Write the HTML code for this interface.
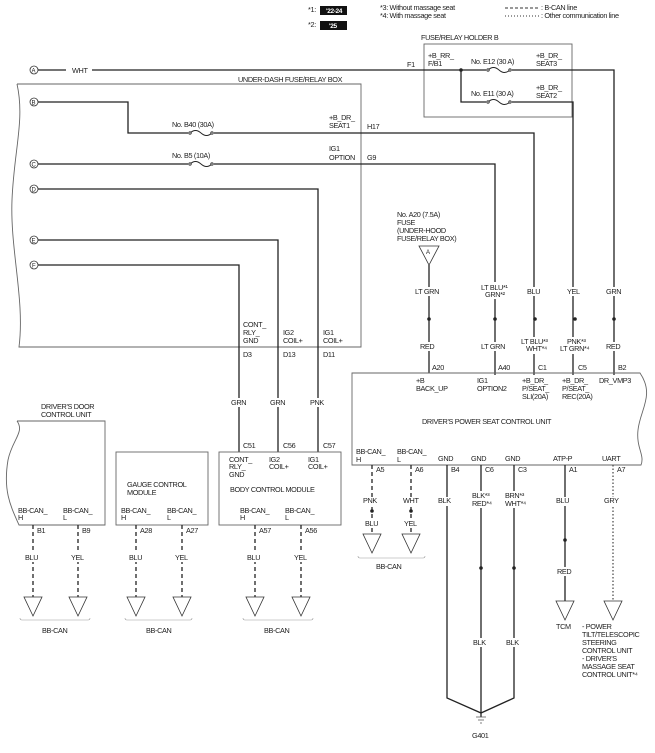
<!DOCTYPE html>
<html><head><meta charset="utf-8"><style>
html,body{margin:0;padding:0;background:#fff}
svg{display:block}
text{font-family:"Liberation Sans",sans-serif;font-size:7.3px;fill:#222;letter-spacing:-0.35px}
.w{stroke:#222;stroke-width:1.3;fill:none}
.b{stroke:#666;stroke-width:0.9;fill:none}
.d{stroke:#222;stroke-width:1.3;fill:none;stroke-dasharray:4,3}
.o{stroke:#444;stroke-width:1.2;fill:none;stroke-dasharray:1.5,2}
.t{stroke:#333;stroke-width:0.8;fill:#fff}
</style></head><body>
<svg width="655" height="753" viewBox="0 0 655 753" xmlns="http://www.w3.org/2000/svg">
<!-- legend -->
<text x="308" y="12">*1:</text><rect x="320" y="6" width="27" height="9" fill="#111"/><text x="326" y="13" style="fill:#fff;font-weight:bold;font-size:6.5px">'22-24</text>
<text x="308" y="27">*2:</text><rect x="320" y="21" width="27" height="9" fill="#111"/><text x="329" y="28" style="fill:#fff;font-weight:bold;font-size:6.5px">'25</text>
<text x="380" y="10">*3: Without massage seat</text>
<text x="380" y="18">*4: With massage seat</text>
<line x1="505" y1="8" x2="539" y2="8" stroke="#333" stroke-width="1" stroke-dasharray="3,2"/><text x="541" y="10">: B-CAN line</text>
<line x1="505" y1="16" x2="539" y2="16" stroke="#333" stroke-width="1" stroke-dasharray="1,2"/><text x="541" y="18">: Other communication line</text>

<!-- fuse/relay holder B -->
<text x="421" y="40">FUSE/RELAY HOLDER B</text>
<rect class="b" x="424" y="44" width="148" height="73"/>
<text x="407" y="67">F1</text>
<text x="428" y="58">+B_RR_</text><text x="428" y="66">F/B1</text>
<text x="471" y="64">No. E12 (30 A)</text>
<text x="536" y="58">+B_DR_</text><text x="536" y="66">SEAT3</text>
<text x="471" y="96">No. E11 (30 A)</text>
<text x="536" y="90">+B_DR_</text><text x="536" y="98">SEAT2</text>

<!-- A -->
<circle cx="34" cy="70" r="4" class="t"/><text x="31.5" y="72.5" style="font-size:6px">A</text>
<path class="w" d="M38,70 H66 M92,70 H614 V375"/>
<text x="72" y="73">WHT</text>
<path class="w" d="M461,70 V102 H573 V375"/>
<circle cx="461" cy="70" r="1.8" fill="#222"/>

<!-- under-dash box -->
<text x="238" y="82">UNDER-DASH FUSE/RELAY BOX</text>
<path class="b" d="M17,84 H361 V347 H19 C25,300 10,250 12,200 C14,150 25,120 17,84"/>

<!-- B -->
<circle cx="34" cy="102" r="4" class="t"/><text x="31.5" y="104.5" style="font-size:6px">B</text>
<path class="w" d="M38,102 H128 V133 H534 V375"/>
<text x="172" y="127">No. B40 (30A)</text>
<text x="329" y="120">+B_DR_</text><text x="329" y="128">SEAT1</text><text x="367" y="129">H17</text>
<!-- C -->
<circle cx="34" cy="164" r="4" class="t"/><text x="31.5" y="166.5" style="font-size:6px">C</text>
<path class="w" d="M38,164 H495 V375"/>
<text x="172" y="158">No. B5 (10A)</text>
<text x="329" y="151">IG1</text><text x="329" y="160">OPTION</text><text x="367" y="160">G9</text>
<!-- D E F -->
<circle cx="34" cy="189" r="4" class="t"/><text x="31.5" y="191.5" style="font-size:6px">D</text>
<path class="w" d="M38,189 H318 V452"/>
<circle cx="34" cy="240" r="4" class="t"/><text x="31.5" y="242.5" style="font-size:6px">E</text>
<path class="w" d="M38,240 H278 V452"/>
<circle cx="34" cy="265" r="4" class="t"/><text x="32" y="267.5" style="font-size:6px">F</text>
<path class="w" d="M38,265 H239 V452"/>

<!-- fuses -->
<g fill="#fff" stroke="#222" stroke-width="0.9">
<rect x="486" y="66" width="26" height="8" stroke="none"/><path d="M488,70 q5.5,-5 11,0 q5.5,5 11,0" fill="none"/><circle cx="488" cy="70" r="1.2"/><circle cx="510" cy="70" r="1.2"/>
<rect x="486" y="98" width="26" height="8" stroke="none"/><path d="M488,102 q5.5,-5 11,0 q5.5,5 11,0" fill="none"/><circle cx="488" cy="102" r="1.2"/><circle cx="510" cy="102" r="1.2"/>
<rect x="188" y="129" width="26" height="8" stroke="none"/><path d="M190,133 q5.5,-5 11,0 q5.5,5 11,0" fill="none"/><circle cx="190" cy="133" r="1.2"/><circle cx="212" cy="133" r="1.2"/>
<rect x="188" y="160" width="26" height="8" stroke="none"/><path d="M190,164 q5.5,-5 11,0 q5.5,5 11,0" fill="none"/><circle cx="190" cy="164" r="1.2"/><circle cx="212" cy="164" r="1.2"/>
</g>

<!-- box bottom labels -->
<text x="243" y="327">CONT_</text><text x="243" y="335">RLY_</text><text x="243" y="343">GND</text>
<text x="283" y="335">IG2</text><text x="283" y="343">COIL+</text>
<text x="323" y="335">IG1</text><text x="323" y="343">COIL+</text>
<text x="243" y="357">D3</text><text x="283" y="357">D13</text><text x="323" y="357">D11</text>
<rect x="230" y="398" width="18" height="9" fill="#fff"/><text x="231" y="405">GRN</text>
<rect x="269" y="398" width="18" height="9" fill="#fff"/><text x="270" y="405">GRN</text>
<rect x="309" y="398" width="18" height="9" fill="#fff"/><text x="310" y="405">PNK</text>
<text x="243" y="448">C51</text><text x="283" y="448">C56</text><text x="323" y="448">C57</text>

<!-- A20 fuse -->
<text x="397" y="217">No. A20 (7.5A)</text><text x="397" y="225">FUSE</text><text x="397" y="233">(UNDER-HOOD</text><text x="397" y="241">FUSE/RELAY BOX)</text>
<path class="t" d="M419,246 H439 L429,265 Z"/><text x="426" y="254" style="font-size:6px">A</text>
<path class="w" d="M429,265 V373"/>
<!-- wire labels above seat unit -->
<g>
<rect x="413" y="287" width="33" height="9" fill="#fff"/><text x="415" y="294">LT GRN</text>
<rect x="480" y="282" width="32" height="17" fill="#fff"/><text x="481" y="290">LT BLU*¹</text><text x="485" y="297">GRN*²</text>
<rect x="526" y="287" width="18" height="9" fill="#fff"/><text x="527" y="294">BLU</text>
<rect x="566" y="287" width="18" height="9" fill="#fff"/><text x="567" y="294">YEL</text>
<rect x="605" y="287" width="18" height="9" fill="#fff"/><text x="606" y="294">GRN</text>
<rect x="420" y="342" width="19" height="9" fill="#fff"/><text x="420" y="349">RED</text>
<rect x="480" y="342" width="32" height="9" fill="#fff"/><text x="481" y="349">LT GRN</text>
<rect x="520" y="337" width="32" height="17" fill="#fff"/><text x="521" y="344">LT BLU*³</text><text x="526" y="351">WHT*⁴</text>
<rect x="559" y="337" width="34" height="17" fill="#fff"/><text x="567" y="344">PNK*³</text><text x="560" y="351">LT GRN*⁴</text>
<rect x="605" y="342" width="19" height="9" fill="#fff"/><text x="606" y="349">RED</text>
</g>
<g fill="#222"><circle cx="429" cy="319" r="1.8"/><circle cx="495" cy="319" r="1.8"/><circle cx="535" cy="319" r="1.8"/><circle cx="575" cy="319" r="1.8"/><circle cx="614" cy="319" r="1.8"/></g>
<text x="432" y="370">A20</text><text x="498" y="370">A40</text><text x="538" y="370">C1</text><text x="578" y="370">C5</text><text x="618" y="370">B2</text>

<!-- seat unit -->
<path class="b" d="M352,465 V373 H640 C655,395 640,410 638,430 C636,448 645,455 641,465 Z"/>
<text x="416" y="383">+B</text><text x="416" y="391">BACK_UP</text>
<text x="477" y="383">IG1</text><text x="477" y="391">OPTION2</text>
<text x="522" y="383">+B_DR_</text><text x="522" y="391">P/SEAT_</text><text x="522" y="399">SLI(20A)</text>
<text x="562" y="383">+B_DR_</text><text x="562" y="391">P/SEAT_</text><text x="562" y="399">REC(20A)</text>
<text x="599" y="383">DR_VMP3</text>
<text x="422" y="424">DRIVER'S POWER SEAT CONTROL UNIT</text>
<text x="356" y="454">BB-CAN_</text><text x="356" y="462">H</text>
<text x="397" y="454">BB-CAN_</text><text x="397" y="462">L</text>
<text x="438" y="461">GND</text><text x="471" y="461">GND</text><text x="505" y="461">GND</text>
<text x="553" y="461">ATP-P</text><text x="602" y="461">UART</text>

<!-- seat bottom wires -->
<path class="d" d="M372,465 V534 M411,465 V534"/>
<path class="w" d="M447,465 V698 L481,713 L514,698 V465 M481,465 V717 M565,465 V601"/>
<path class="o" d="M613,465 V601"/>
<text x="376" y="472">A5</text><text x="415" y="472">A6</text><text x="451" y="472">B4</text><text x="485" y="472">C6</text><text x="518" y="472">C3</text><text x="569" y="472">A1</text><text x="617" y="472">A7</text>
<rect x="363" y="497" width="18" height="9" fill="#fff"/><text x="363" y="503">PNK</text>
<rect x="402" y="497" width="19" height="9" fill="#fff"/><text x="403" y="503">WHT</text>
<rect x="438" y="497" width="18" height="9" fill="#fff"/><text x="438" y="503">BLK</text>
<rect x="471" y="491" width="24" height="17" fill="#fff"/><text x="472" y="498">BLK*³</text><text x="472" y="506">RED*⁴</text>
<rect x="504" y="491" width="24" height="17" fill="#fff"/><text x="505" y="498">BRN*³</text><text x="505" y="506">WHT*⁴</text>
<rect x="556" y="497" width="18" height="9" fill="#fff"/><text x="556" y="503">BLU</text>
<rect x="604" y="497" width="19" height="9" fill="#fff"/><text x="604" y="503">GRY</text>
<rect x="364" y="519" width="17" height="9" fill="#fff"/><text x="365" y="526">BLU</text>
<rect x="403" y="519" width="17" height="9" fill="#fff"/><text x="404" y="526">YEL</text>
<rect x="556" y="567" width="19" height="9" fill="#fff"/><text x="557" y="574">RED</text>
<rect x="472" y="638" width="19" height="9" fill="#fff"/><text x="473" y="645">BLK</text>
<rect x="505" y="638" width="19" height="9" fill="#fff"/><text x="506" y="645">BLK</text>
<g fill="#222"><circle cx="372" cy="511" r="1.8"/><circle cx="411" cy="511" r="1.8"/><circle cx="481" cy="568" r="1.8"/><circle cx="514" cy="568" r="1.8"/><circle cx="565" cy="540" r="1.8"/></g>
<path class="t" d="M363,534 H381 L372,553 Z M402,534 H420 L411,553 Z M556,601 H574 L565,620 Z M604,601 H622 L613,620 Z"/>
<path d="M358,556 q0,2 2,2 H423 q2,0 2,-2" stroke="#999" stroke-width="0.6" fill="none"/>
<text x="376" y="569">BB-CAN</text>
<text x="556" y="629">TCM</text>
<text x="582" y="629">- POWER</text><text x="582" y="637">TILT/TELESCOPIC</text><text x="582" y="645">STEERING</text><text x="582" y="653">CONTROL UNIT</text><text x="582" y="661">- DRIVER'S</text><text x="582" y="669">MASSAGE SEAT</text><text x="582" y="677">CONTROL UNIT*⁴</text>
<path d="M476,717 H486 M478,720 H484 M480,723 H482" stroke="#555" stroke-width="0.8"/>
<text x="472" y="738">G401</text>

<!-- door control unit -->
<text x="41" y="409">DRIVER'S DOOR</text><text x="41" y="417">CONTROL UNIT</text>
<path class="b" d="M17,421 H105 V525 H19 C10,505 3,490 8,460 C12,440 25,432 17,421"/>
<text x="18" y="513">BB-CAN_</text><text x="18" y="520">H</text>
<text x="63" y="513">BB-CAN_</text><text x="63" y="520">L</text>
<!-- gauge -->
<rect class="b" x="116" y="452" width="92" height="73"/>
<text x="127" y="487">GAUGE CONTROL</text><text x="127" y="495">MODULE</text>
<text x="121" y="513">BB-CAN_</text><text x="121" y="520">H</text>
<text x="167" y="513">BB-CAN_</text><text x="167" y="520">L</text>
<!-- BCM -->
<rect class="b" x="219" y="452" width="122" height="73"/>
<text x="229" y="462">CONT_</text><text x="229" y="469">RLY_</text><text x="229" y="477">GND</text>
<text x="269" y="462">IG2</text><text x="269" y="469">COIL+</text>
<text x="308" y="462">IG1</text><text x="308" y="469">COIL+</text>
<text x="230" y="492">BODY CONTROL MODULE</text>
<text x="240" y="513">BB-CAN_</text><text x="240" y="520">H</text>
<text x="285" y="513">BB-CAN_</text><text x="285" y="520">L</text>

<!-- lower CAN lines -->
<path class="d" d="M33,525 V597 M78,525 V597 M136,525 V597 M182,525 V597 M255,525 V597 M301,525 V597"/>
<text x="37" y="533">B1</text><text x="82" y="533">B9</text>
<text x="140" y="533">A28</text><text x="186" y="533">A27</text>
<text x="259" y="533">A57</text><text x="305" y="533">A56</text>
<g>
<rect x="24" y="553" width="18" height="9" fill="#fff"/><text x="25" y="560">BLU</text>
<rect x="70" y="553" width="17" height="9" fill="#fff"/><text x="71" y="560">YEL</text>
<rect x="128" y="553" width="18" height="9" fill="#fff"/><text x="129" y="560">BLU</text>
<rect x="174" y="553" width="17" height="9" fill="#fff"/><text x="175" y="560">YEL</text>
<rect x="246" y="553" width="18" height="9" fill="#fff"/><text x="247" y="560">BLU</text>
<rect x="293" y="553" width="17" height="9" fill="#fff"/><text x="294" y="560">YEL</text>
</g>
<path class="t" d="M24,597 H42 L33,616 Z M69,597 H87 L78,616 Z M127,597 H145 L136,616 Z M173,597 H191 L182,616 Z M246,597 H264 L255,616 Z M292,597 H310 L301,616 Z"/>
<path d="M20,618 q0,2 2,2 H88 q2,0 2,-2 M125,618 q0,2 2,2 H190 q2,0 2,-2 M243,618 q0,2 2,2 H311 q2,0 2,-2" stroke="#999" stroke-width="0.6" fill="none"/>
<text x="42" y="633">BB-CAN</text><text x="146" y="633">BB-CAN</text><text x="264" y="633">BB-CAN</text>
</svg>
</body></html>
